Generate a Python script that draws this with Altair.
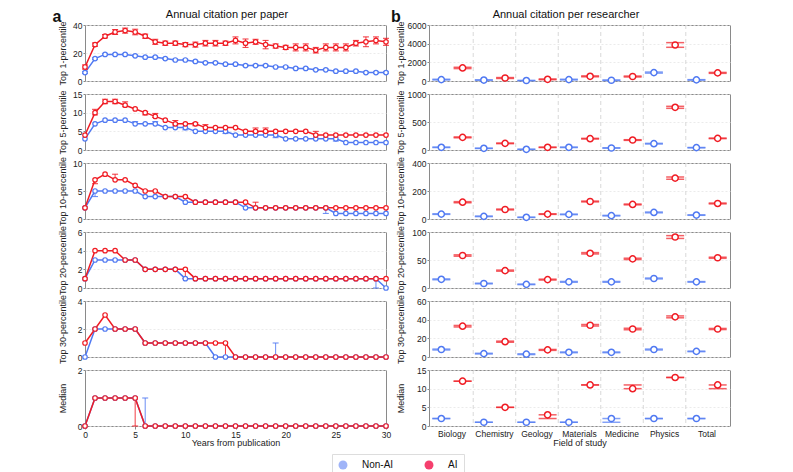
import altair as alt
import pandas as pd

FONT = "Liberation Sans"
BLUE = "#5079f2"
RED = "#f01c24"

YEARS = list(range(31))
GROUPS = ["Non-AI", "AI"]
FIELDS = ["Biology", "Chemistry", "Geology", "Materials", "Medicine", "Physics", "Total"]
PANELS = ["Top 1-percentile", "Top 5-percentile", "Top 10-percentile",
          "Top 20-percentile", "Top 30-percentile", "Median"]

# ---------- (a) annual citation per paper, by year ----------
p_top1_nonai = [6, 16, 19, 19, 19, 18, 17, 17, 16, 15, 15, 14, 13, 13, 12, 12, 11, 11, 11, 10, 10, 9, 9, 8, 8, 7, 7, 7, 6, 6, 6]
p_top1_ai = [10, 26, 32, 35, 36, 35, 32, 28, 27, 27, 26, 26, 27, 27, 27, 29, 27, 28, 26, 25, 24, 24, 24, 22, 24, 24, 24, 27, 28, 29, 28]
p_top1_nonai_err = [0.6, 0.6, 0.5, 0.5, 0.5, 0.5, 0.5, 0.5, 0.5, 0.5, 0.5, 0.5, 0.5, 0.5, 0.5, 0.5, 0.5, 0.5, 0.5, 0.5, 0.5, 0.5, 0.5, 0.5, 0.5, 0.5, 0.5, 0.5, 0.5, 0.5, 0.5]
p_top1_ai_err = [1.5, 1.2, 1.2, 1.8, 1.8, 2.0, 1.5, 1.8, 1.5, 1.5, 1.5, 1.8, 2.0, 2.0, 1.5, 2.5, 3.0, 1.8, 3.0, 1.5, 1.5, 2.5, 2.5, 2.0, 2.5, 2.5, 2.5, 2.0, 3.5, 2.5, 2.5]

p_top5_nonai = [3, 7, 8, 8, 8, 7, 7, 7, 6, 6, 6, 5, 5, 5, 5, 4, 4, 4, 4, 4, 3, 3, 3, 3, 3, 3, 2, 2, 2, 2, 2]
p_top5_ai = [4, 10, 13, 13, 12, 11, 10, 9, 8, 7, 7, 7, 6, 6, 6, 6, 5, 5, 5, 5, 5, 5, 5, 4, 4, 4, 4, 4, 4, 4, 4]
p_top5_nonai_err = {5: (0, 0.6), 7: (0, 0.6), 10: (0.6, 0), 14: (0.6, 0), 19: (0.7, 0), 25: (0.6, 0)}
p_top5_ai_err = {1: (0.6, 0.9), 2: (0.6, 0.6), 3: (0.6, 0.6), 4: (0.4, 0.9), 6: (0.6, 0.3), 7: (0.3, 0.8),
                 9: (0.3, 0.9), 11: (0.5, 0.3), 12: (0, 0.8), 17: (0.3, 0.9), 18: (0.3, 0.9), 23: (0, 1)}

p_top10_nonai = [2, 5, 5, 5, 5, 5, 4, 4, 4, 4, 3, 3, 3, 3, 3, 3, 2, 2, 2, 2, 2, 2, 2, 2, 2, 1, 1, 1, 1, 1, 1]
p_top10_ai = [2, 7, 8, 7, 7, 6, 5, 5, 4, 4, 4, 3, 3, 3, 3, 3, 3, 2, 2, 2, 2, 2, 2, 2, 2, 2, 2, 2, 2, 2, 2]
p_top10_nonai_err = {1: (1, 0), 24: (1, 0)}
p_top10_ai_err = {1: (0.7, 0), 3: (0, 1), 17: (0, 1)}

p_top20_nonai = [1, 3, 3, 3, 3, 3, 2, 2, 2, 2, 1, 1, 1, 1, 1, 1, 1, 1, 1, 1, 1, 1, 1, 1, 1, 1, 1, 1, 1, 1, 0]
p_top20_ai = [1, 4, 4, 4, 3, 3, 2, 2, 2, 2, 2, 1, 1, 1, 1, 1, 1, 1, 1, 1, 1, 1, 1, 1, 1, 1, 1, 1, 1, 1, 1]
p_top20_nonai_err = {29: (1, 0)}
p_top20_ai_err = {10: (1, 0)}

p_top30_nonai = [0, 2, 2, 2, 2, 2, 1, 1, 1, 1, 1, 1, 1, 0, 0, 0, 0, 0, 0, 0, 0, 0, 0, 0, 0, 0, 0, 0, 0, 0, 0]
p_top30_ai = [1, 2, 3, 2, 2, 2, 1, 1, 1, 1, 1, 1, 1, 1, 1, 0, 0, 0, 0, 0, 0, 0, 0, 0, 0, 0, 0, 0, 0, 0, 0]
p_top30_nonai_err = {19: (0, 1)}
p_top30_ai_err = {14: (1, 0)}

p_median_nonai = [0, 1, 1, 1, 1, 1, 0, 0, 0, 0, 0, 0, 0, 0, 0, 0, 0, 0, 0, 0, 0, 0, 0, 0, 0, 0, 0, 0, 0, 0, 0]
p_median_ai = [0, 1, 1, 1, 1, 1, 0, 0, 0, 0, 0, 0, 0, 0, 0, 0, 0, 0, 0, 0, 0, 0, 0, 0, 0, 0, 0, 0, 0, 0, 0]
p_median_nonai_err = {6: (0, 1)}
p_median_ai_err = {5: (1, 0)}

P_YMAX = [40, 15, 10, 6, 4, 2]
P_TICKS = [[0, 20, 40], [0, 5, 10, 15], [0, 5, 10], [0, 2, 4, 6], [0, 2, 4], [0, 1, 2]]

# ---------- (b) annual citation per researcher, by field ----------
r_top1_nonai = [150, 100, 50, 150, 80, 900, 120]
r_top1_ai = [1400, 320, 180, 500, 480, 3860, 870]
r_top1_nonai_err = [40, 30, 20, 40, 30, 60, 25]
r_top1_ai_err = [70, 50, 40, 50, 50, 250, 50]

r_top5_nonai = [48, 30, 12, 48, 36, 113, 42]
r_top5_ai = [226, 119, 48, 202, 178, 762, 208]
r_top5_nonai_err = [4, 3, 2, 4, 3, 6, 3]
r_top5_ai_err = [8, 6, 4, 6, 6, 18, 5]

r_top10_nonai = [35, 19, 12, 33, 24, 47, 28]
r_top10_ai = [120, 68, 35, 125, 104, 292, 111]
r_top10_nonai_err = [2, 2, 1, 2, 2, 3, 1.5]
r_top10_ai_err = [4, 3, 2, 3, 3, 8, 3]

r_top20_nonai = [15.5, 8, 6.5, 11, 11, 17, 11]
r_top20_ai = [58, 31, 15, 62, 52, 91, 54]
r_top20_nonai_err = [0.8, 0.6, 0.5, 0.7, 0.7, 0.8, 0.5]
r_top20_ai_err = [1.2, 1.0, 0.8, 1.2, 1.2, 2.5, 1.0]

r_top30_nonai = [8, 3.6, 3, 5, 5, 8, 6]
r_top30_ai = [33, 16.4, 7.6, 34, 30, 43, 30]
r_top30_nonai_err = [0.5, 0.4, 0.4, 0.4, 0.4, 0.5, 0.3]
r_top30_ai_err = [0.8, 0.6, 0.5, 0.8, 0.8, 1.0, 0.6]

r_median_nonai = [2, 1, 1, 1, 2, 2, 2]
r_median_nonai_lo = [2, 1, 1, 1, 1, 2, 2]
r_median_nonai_hi = [2, 1, 1, 1, 2, 2, 2]
r_median_ai = [12, 5, 3, 11, 10, 13, 11]
r_median_ai_lo = [12, 5, 2, 11, 10, 13, 10]
r_median_ai_hi = [12, 5, 3, 11, 11, 13, 11]

R_YMAX = [6000, 1000, 400, 100, 60, 15]
R_TICKS = [[0, 2000, 4000, 6000], [0, 500, 1000], [0, 200, 400], [0, 50, 100], [0, 20, 40, 60], [0, 5, 10, 15]]

W, H = 301, 56


def sym(errs):
    return {i: (e, e) for i, e in enumerate(errs)}


paper_sets = [
    (p_top1_nonai, p_top1_ai, sym(p_top1_nonai_err), sym(p_top1_ai_err)),
    (p_top5_nonai, p_top5_ai, p_top5_nonai_err, p_top5_ai_err),
    (p_top10_nonai, p_top10_ai, p_top10_nonai_err, p_top10_ai_err),
    (p_top20_nonai, p_top20_ai, p_top20_nonai_err, p_top20_ai_err),
    (p_top30_nonai, p_top30_ai, p_top30_nonai_err, p_top30_ai_err),
    (p_median_nonai, p_median_ai, p_median_nonai_err, p_median_ai_err),
]


def res_bounds(vals, errs):
    return [v - e for v, e in zip(vals, errs)], [v + e for v, e in zip(vals, errs)]


res_sets = []
for nv, av, ne, ae in [
    (r_top1_nonai, r_top1_ai, r_top1_nonai_err, r_top1_ai_err),
    (r_top5_nonai, r_top5_ai, r_top5_nonai_err, r_top5_ai_err),
    (r_top10_nonai, r_top10_ai, r_top10_nonai_err, r_top10_ai_err),
    (r_top20_nonai, r_top20_ai, r_top20_nonai_err, r_top20_ai_err),
    (r_top30_nonai, r_top30_ai, r_top30_nonai_err, r_top30_ai_err),
]:
    nlo, nhi = res_bounds(nv, ne)
    alo, ahi = res_bounds(av, ae)
    res_sets.append((nv, nlo, nhi, av, alo, ahi))
res_sets.append((r_median_nonai, r_median_nonai_lo, r_median_nonai_hi,
                 r_median_ai, r_median_ai_lo, r_median_ai_hi))

color = alt.Color("group:N", scale=alt.Scale(domain=GROUPS, range=[BLUE, RED]), legend=None)


def label_layer(text, x, y, size, weight="normal"):
    return alt.Chart(pd.DataFrame({"t": [text]})).mark_text(
        fontSize=size, fontWeight=weight, font=FONT, color="#111",
        align="center", baseline="top").encode(text="t:N", x=alt.value(x), y=alt.value(y))


def left_panel(i):
    nonai, ai, nerr, aerr = paper_sets[i]
    rows, caps = [], []
    for g, vals, errs in (("Non-AI", nonai, nerr), ("AI", ai, aerr)):
        for yr, v in zip(YEARS, vals):
            d, u = errs.get(yr, (0, 0))
            rows.append(dict(year=yr, value=v, lo=v - d, hi=v + u, group=g, err=(d > 0 or u > 0)))
            if u > 0:
                caps.append(dict(year=yr, value=v + u, group=g))
            if d > 0:
                caps.append(dict(year=yr, value=v - d, group=g))
    df = pd.DataFrame(rows)
    cdf = pd.DataFrame(caps)
    bottom = i == len(PANELS) - 1
    xaxis = alt.Axis(values=list(range(0, 31, 5)), title="Years from publication",
                     grid=False, labelFlush=False, titlePadding=0, tickSize=3,
                     labelPadding=1) if bottom else None
    xs = alt.Scale(domain=[0, 30], nice=False)
    ys = alt.Scale(domain=[0, P_YMAX[i]], nice=False)
    yaxis = alt.Axis(values=P_TICKS[i], title=PANELS[i], grid=True, format="d",
                     titleX=-18, titleY=H / 2, titleAngle=-90, titleAlign="center",
                     titleBaseline="bottom")

    def X():
        return alt.X("year:Q", scale=xs, axis=xaxis)

    def Y(f):
        return alt.Y(f, scale=ys, axis=yaxis)

    base = alt.Chart(df)
    lines = base.mark_line(strokeWidth=1.5).encode(x=X(), y=Y("value:Q"), color=color)
    rules = base.transform_filter("datum.err").mark_rule(strokeWidth=1, opacity=0.85).encode(
        x=X(), y=Y("lo:Q"), y2="hi:Q", color=color)
    layers = [lines, rules]
    if len(cdf):
        ticks = alt.Chart(cdf).mark_tick(orient="horizontal", size=6, thickness=1, opacity=0.9).encode(
            x=X(), y=Y("value:Q"), color=color)
        layers.append(ticks)
    pts = base.mark_point(shape="circle", filled=False, fill="white", size=20,
                          strokeWidth=1.2, opacity=1).encode(x=X(), y=Y("value:Q"), color=color)
    layers.append(pts)
    if i == 0:
        layers.append(label_layer("a", -28, -16, 16, "bold"))
        layers.append(label_layer("Annual citation per paper", 142, -16, 11))
        leg = base.mark_circle(opacity=0, size=1).encode(
            x=X(), y=Y("value:Q"),
            fill=alt.Fill("group:N", scale=alt.Scale(domain=GROUPS, range=["#9fb4f8", "#f53f6d"]),
                          legend=alt.Legend(title=None, orient="none", legendX=247, legendY=429,
                                            direction="horizontal", symbolType="circle",
                                            symbolSize=80, symbolStrokeWidth=0, labelFontSize=10,
                                            labelFont=FONT, labelColor="#111", labelOffset=14,
                                            columnPadding=30, padding=6, strokeColor="#dddddd",
                                            fillColor="white", symbolOpacity=1)))
        layers.append(leg)
    return alt.layer(*layers).properties(width=W, height=H)


def right_panel(i):
    nv, nlo, nhi, av, alo, ahi = res_sets[i]
    rows, caps = [], []
    for g, vals, los, his in (("Non-AI", nv, nlo, nhi), ("AI", av, alo, ahi)):
        for f, v, lo, hi in zip(FIELDS, vals, los, his):
            rows.append(dict(field=f, value=v, lo=lo, hi=hi, group=g))
            caps.append(dict(field=f, value=lo, group=g))
            caps.append(dict(field=f, value=hi, group=g))
    df = pd.DataFrame(rows)
    cdf = pd.DataFrame(caps)
    bottom = i == len(PANELS) - 1
    xaxis = alt.Axis(title="Field of study", ticks=False, grid=False, labelAngle=0,
                     labelPadding=3, titlePadding=1) if bottom else None
    xs = alt.Scale(domain=FIELDS, paddingInner=0, paddingOuter=0.04)
    ys = alt.Scale(domain=[0, R_YMAX[i]], nice=False)
    yaxis = alt.Axis(values=R_TICKS[i], title=PANELS[i], grid=True, format="d",
                     titleX=-24, titleY=H / 2, titleAngle=-90, titleAlign="center",
                     titleBaseline="bottom")
    xo = alt.XOffset("group:N", scale=alt.Scale(domain=GROUPS))

    def X(**kw):
        return alt.X("field:N", scale=xs, axis=xaxis, **kw)

    def Y(f):
        return alt.Y(f, scale=ys, axis=yaxis)

    seps = alt.Chart(pd.DataFrame({"field": FIELDS[1:]})).mark_rule(
        color="#d4d4d4", strokeDash=[4, 3], strokeWidth=0.9).encode(x=X(bandPosition=0))
    base = alt.Chart(df)
    rules = base.mark_rule(strokeWidth=1.2).encode(x=X(), xOffset=xo, y=Y("lo:Q"), y2="hi:Q", color=color)
    ticks = alt.Chart(cdf).mark_tick(orient="horizontal", size=18, thickness=1.5).encode(
        x=X(), xOffset=xo, y=Y("value:Q"), color=color)
    pts = base.mark_point(shape="circle", filled=False, fill="white", size=38,
                          strokeWidth=1.5, opacity=1).encode(x=X(), xOffset=xo, y=Y("value:Q"), color=color)
    layers = [seps, rules, ticks, pts]
    if i == 0:
        layers.append(label_layer("b", -33, -16, 16, "bold"))
        layers.append(label_layer("Annual citation per researcher", 137, -16, 11))
    return alt.layer(*layers).properties(width=W, height=H)


cells = []
for i in range(len(PANELS)):
    cells.append(left_panel(i))
    cells.append(right_panel(i))

chart = alt.concat(*cells, columns=2, spacing={"row": 13, "column": 43}, bounds="flush").resolve_legend(
    fill="independent"
).resolve_scale(
    fill="independent"
).properties(
    padding={"left": 44, "top": 0, "right": 10, "bottom": 40}
).configure_view(
    stroke="#8a8a8a", strokeWidth=1
).configure_axis(
    labelFont=FONT, titleFont=FONT, labelFontSize=8.5, titleFontSize=9, titleFontWeight="normal",
    labelColor="#222", titleColor="#222", domain=False, tickColor="#888", tickSize=2,
    labelPadding=1, titlePadding=3, gridColor="#e6e6e6", gridDash=[2, 2], gridWidth=0.8
)

chart.save("out.html", embed_options={"renderer": "svg", "actions": False})
